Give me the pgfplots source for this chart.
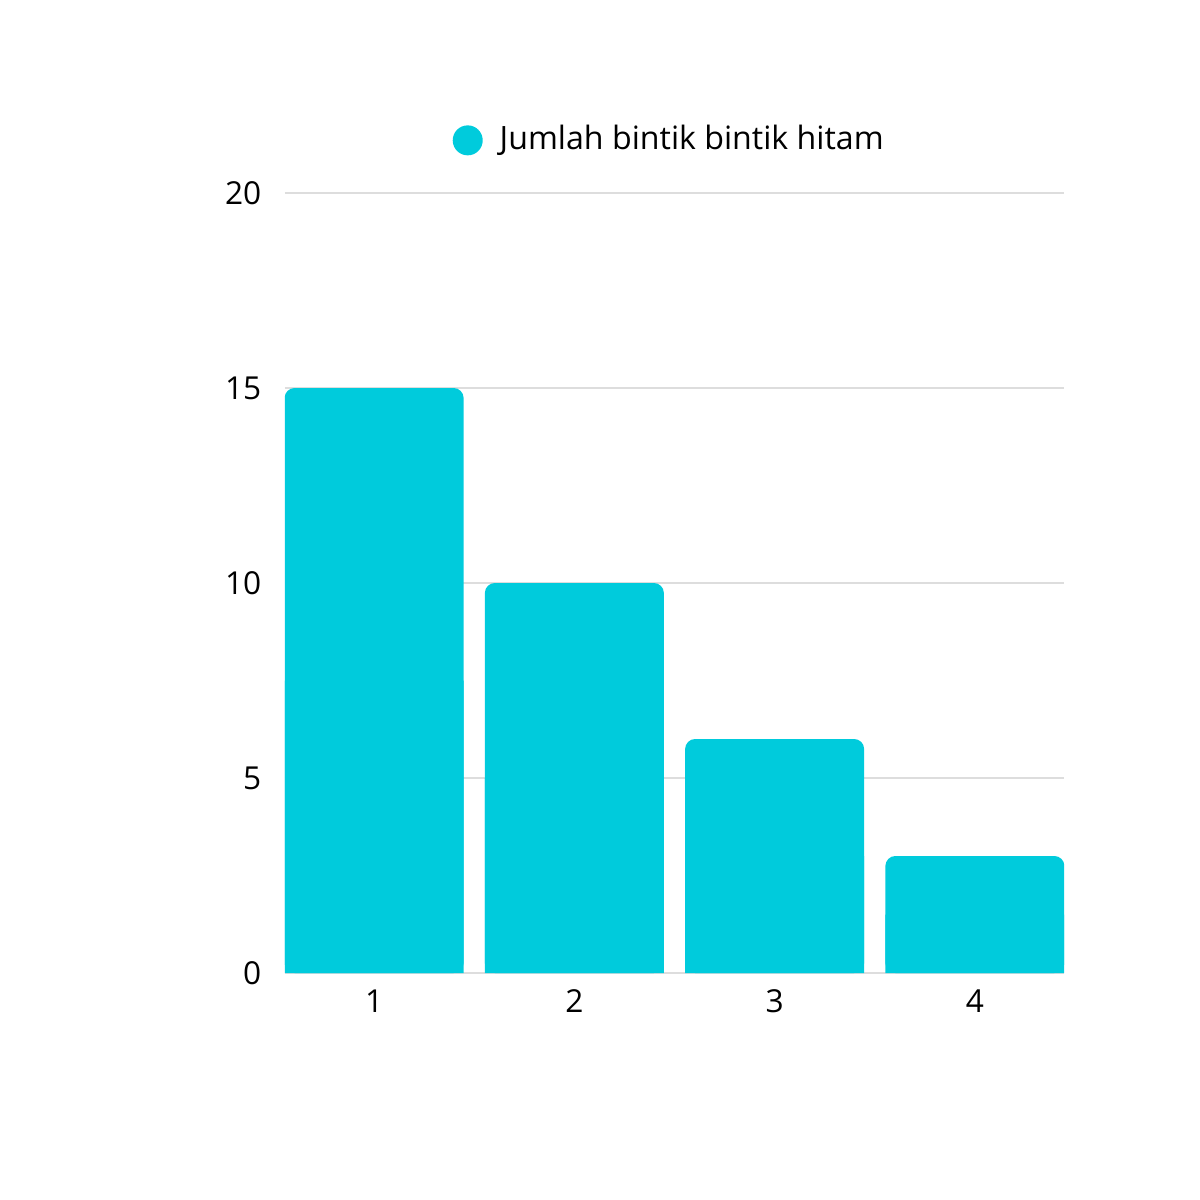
\documentclass[border=0pt]{standalone}
\usepackage{fontspec}
\setmainfont{Open Sans}
\usepackage{pgfplots}
\usepackage{pgfplotstable}
\pgfplotsset{compat=1.18}
\definecolor{barc}{RGB}{0,203,220}
\definecolor{gridc}{RGB}{221,221,221}
\pgfplotstableread{
x y
1 15
2 10
3 6
4 3
}\data
\begin{document}
\begin{tikzpicture}
\path[use as bounding box] (-2.85,-2.27) rectangle (9.15,9.73);
\begin{axis}[
  at={(0,0)}, anchor=south west,
  scale only axis, width=7.79cm, height=7.80cm,
  xmin=0.555, xmax=4.445, ymin=0, ymax=20,
  axis line style={draw=none}, tick style={draw=none},
  xtick={1,2,3,4}, ytick={0,5,10,15,20},
  ymajorgrids, grid style={draw=gridc, line width=0.4pt},
  /pgf/number format/assume math mode=true,
  ticklabel style={font=\fontsize{9pt}{11pt}\selectfont, text=black},
  yticklabel style={anchor=east, inner sep=0pt, xshift=-0.23cm},
  xticklabel style={anchor=north, inner sep=0pt, yshift=-0.16cm},
  legend style={draw=none, fill=none, at={(0.2144,1.0675)}, anchor=west,
    inner sep=0pt, column sep=0.1cm,
    font=\fontsize{9.15pt}{11pt}\selectfont},
  legend image code/.code={\fill[barc] (0.15cm,0) circle (0.15cm);},
]
\addplot[ybar, bar width=1.79cm, bar shift=0pt, fill=barc, draw=none, rounded corners=0.1cm]
  table[x=x, y=y] {\data};
\addlegendentry{Jumlah bintik bintik hitam}
\addplot[ybar, bar width=1.79cm, bar shift=0pt, fill=barc, draw=none, forget plot]
  table[x=x, y expr=\thisrow{y}/2] {\data};
\end{axis}
\end{tikzpicture}
\end{document}
